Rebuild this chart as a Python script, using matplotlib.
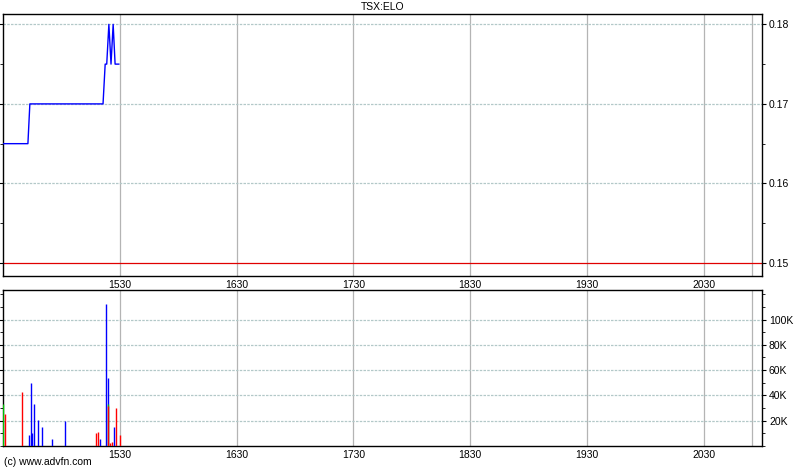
import matplotlib
matplotlib.use('Agg')
import matplotlib.pyplot as plt
from matplotlib.ticker import MultipleLocator, FuncFormatter

plt.rcParams['font.family'] = ['Liberation Sans', 'DejaVu Sans']

# minutes after 14:30
price_time = [0, 12.8, 13.8, 51.4, 52.5, 53.3, 54.4, 55.5, 56.6, 57.6, 59.5]
price = [0.165, 0.165, 0.17, 0.17, 0.175, 0.175, 0.18, 0.175, 0.18, 0.175, 0.175]

up_time = [13.5, 14.5, 15, 16, 18, 20, 25, 32, 50, 53, 54, 57]
up_vol = [8300, 49700, 10200, 33200, 20200, 14700, 5200, 19700, 5200, 112300, 53600, 14700]
flat_time = [0, 54]
flat_vol = [33600, 33400]
down_time = [1, 10, 48, 49, 54, 55, 56, 58, 60]
down_vol = [25000, 42500, 10200, 11000, 32000, 2000, 3000, 30000, 8300]

tick_pos = [60, 120, 180, 240, 300, 360]
tick_labels = ['1530', '1630', '1730', '1830', '1930', '2030']
price_ticks = [0.15, 0.16, 0.17, 0.18]
vol_ticks = [20000, 40000, 60000, 80000, 100000]
prev_close = 0.15
session_end = 385

hgrid = '#b3c8c8'
vgrid = '#b4b4b4'

fig = plt.figure(figsize=(8, 4.75), dpi=100)
ax1 = fig.add_axes([0.00375, 0.4189, 0.94875, 0.5516])
ax2 = fig.add_axes([0.00375, 0.0611, 0.94875, 0.3284])

for ax in (ax1, ax2):
    ax.set_xlim(0, 390)
    ax.set_xticks(tick_pos)
    ax.set_xticklabels(tick_labels, fontsize=7.5)
    ax.tick_params(axis='x', length=0, pad=3)
    for x in tick_pos + [session_end]:
        ax.axvline(x, color=vgrid, lw=0.9, zorder=0)
    ax.yaxis.tick_right()
    ax.tick_params(axis='y', which='both', direction='out', right=True, left=True,
                   labelsize=7.5, pad=2)
    ax.tick_params(axis='y', which='major', length=3)
    ax.tick_params(axis='y', which='minor', length=2)
    for s in ax.spines.values():
        s.set_linewidth(1.0)

# price panel
ax1.set_ylim(0.14836, 0.1813)
ax1.set_yticks(price_ticks)
ax1.yaxis.set_minor_locator(MultipleLocator(0.005))
ax1.yaxis.set_major_formatter(FuncFormatter(lambda v, p: '%.2f' % v))
for y in price_ticks:
    if y != prev_close:
        ax1.axhline(y, color=hgrid, lw=0.9, ls=(0, (2, 1)), zorder=0)
ax1.axhline(prev_close, color='#e00000', lw=0.9, zorder=1)
ax1.plot(price_time, price, color='#0000ff', lw=1.0, zorder=3)
ax1.set_title('TSX:ELO', fontsize=7.5, pad=3)

# volume panel
ax2.set_ylim(0, 123400)
ax2.set_yticks(vol_ticks)
ax2.yaxis.set_minor_locator(MultipleLocator(10000))
ax2.yaxis.set_major_formatter(FuncFormatter(lambda v, p: '%dK' % (v / 1000)))
for y in vol_ticks:
    ax2.axhline(y, color=hgrid, lw=0.9, ls=(0, (2, 1)), zorder=0)
ax2.vlines(up_time, 0, up_vol, color='#0000ff', lw=1.0, zorder=3)
ax2.vlines(flat_time, 0, flat_vol, color='#00c000', lw=1.0, zorder=4)
ax2.vlines(down_time, 0, down_vol, color='#ff0000', lw=1.0, zorder=5)

fig.text(0.005, 0.017, '(c) www.advfn.com', fontsize=7.5, ha='left', va='bottom')

fig.savefig('out.png', dpi=100)
